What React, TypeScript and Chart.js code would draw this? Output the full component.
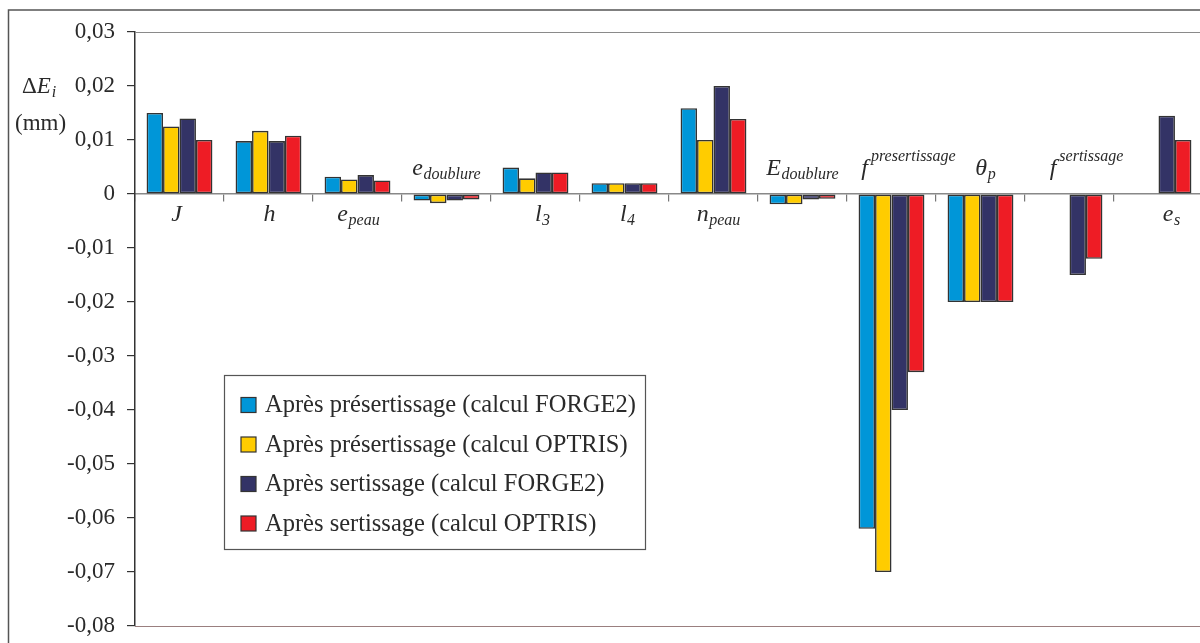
import React, { useEffect, useRef } from "react";
import { Chart, registerables } from "chart.js";

Chart.register(...registerables);

// ---- data ----
const categories = [
  "J", "h", "e_peau", "e_doublure", "l_3", "l_4", "n_peau",
  "E_doublure", "f^presertissage", "θ_p", "f^sertissage", "e_s",
];
const seriesLabels = [
  "Après présertissage (calcul FORGE2)",
  "Après présertissage (calcul OPTRIS)",
  "Après sertissage (calcul FORGE2)",
  "Après sertissage (calcul OPTRIS)",
];
const preForge = [0.015, 0.0098, 0.0032, -0.0012, 0.0049, 0.002, 0.0159, -0.0019, -0.062, -0.02, null, null];
const preOptris = [0.0125, 0.0117, 0.0027, -0.0017, 0.0029, 0.002, 0.010, -0.0019, -0.070, -0.02, null, null];
const sertForge = [0.014, 0.0098, 0.0035, -0.0012, 0.004, 0.002, 0.020, -0.001, -0.040, -0.02, -0.015, 0.0145];
const sertOptris = [0.010, 0.0108, 0.0025, -0.001, 0.004, 0.002, 0.0139, -0.0009, -0.033, -0.02, -0.012, 0.010];
const yMin = -0.08;
const yMax = 0.03;
const yStep = 0.01;
const yTitleMain = "ΔE";
const yTitleSub = "i";
const yTitleUnit = "(mm)";

// ---- styles ----
const colors = ["#0096D8", "#FFCC00", "#333366", "#EE1C25"];
const labelSide = ["below", "below", "below", "above", "below", "below", "below", "above", "above", "above", "above", "below"];
const labelDx = [-3, 1, 1, 0, 7, 3, 5, 0, 17, 5, 17, 13];
const SERIF = "'Liberation Serif', 'Times New Roman', serif";
const W = 1215;
const H = 660;

function fmtTick(v: number) {
  const r = Math.round(v * 100) / 100;
  if (r === 0) return "0";
  return r.toFixed(2).replace(".", ",");
}

const decorPlugin = {
  id: "decor",
  afterDraw(chart: any) {
    const ctx = chart.ctx as CanvasRenderingContext2D;
    const { left, right } = chart.chartArea;
    const ys = chart.scales.y;
    const xs = chart.scales.x;
    const y0 = ys.getPixelForValue(0);
    ctx.save();

    // outer frame
    ctx.strokeStyle = "#555";
    ctx.lineWidth = 1.5;
    ctx.beginPath();
    ctx.moveTo(8.5, H);
    ctx.lineTo(8.5, 10);
    ctx.lineTo(W, 10);
    ctx.stroke();

    // plot top / bottom lines
    ctx.lineWidth = 1.2;
    ctx.strokeStyle = "#8a8a8a";
    const yt = Math.round(ys.getPixelForValue(yMax)) + 0.5;
    ctx.beginPath();
    ctx.moveTo(left, yt);
    ctx.lineTo(right, yt);
    ctx.stroke();
    ctx.strokeStyle = "#9a7f7f";
    const yb = Math.round(ys.getPixelForValue(yMin)) + 0.5;
    ctx.beginPath();
    ctx.moveTo(left, yb);
    ctx.lineTo(right, yb);
    ctx.stroke();

    // category labels
    ctx.fillStyle = "#2a2a2a";
    ctx.textAlign = "left";
    ctx.textBaseline = "alphabetic";
    const mainFont = "italic 24px " + SERIF;
    const smallFont = "italic 16px " + SERIF;
    categories.forEach((cat, i) => {
      const m = cat.match(/^([^_^]+)([_^])?(.*)$/);
      if (!m) return;
      const base = m[1];
      const mode = m[2] || "";
      const rest = m[3] || "";
      ctx.font = mainFont;
      const wb = ctx.measureText(base).width;
      ctx.font = smallFont;
      const gap = mode === "^" ? 3 : 0.5;
      const wr = rest ? ctx.measureText(rest).width + gap : 0;
      const cx = xs.getPixelForValue(i) + labelDx[i];
      const baseline = labelSide[i] === "below" ? y0 + 27 : y0 - 19;
      const sx = cx - (wb + wr) / 2;
      ctx.font = mainFont;
      ctx.fillText(base, sx, baseline);
      if (rest) {
        ctx.font = smallFont;
        ctx.fillText(rest, sx + wb + gap, baseline + (mode === "_" ? 4 : -14));
      }
    });

    // y title
    ctx.fillStyle = "#2a2a2a";
    ctx.font = "23px " + SERIF;
    ctx.fillText(yTitleMain.charAt(0), 22, 93);
    const wd = ctx.measureText(yTitleMain.charAt(0)).width;
    ctx.font = "italic 23px " + SERIF;
    ctx.fillText(yTitleMain.slice(1), 22 + wd, 93);
    const we = ctx.measureText(yTitleMain.slice(1)).width;
    ctx.font = "italic 16px " + SERIF;
    ctx.fillText(yTitleSub, 22 + wd + we + 1, 97);
    ctx.font = "23px " + SERIF;
    ctx.fillText(yTitleUnit, 15, 130);

    // legend
    const lx = 224, ly = 375, lw = 421, lh = 174;
    ctx.fillStyle = "#fff";
    ctx.fillRect(lx, ly, lw, lh);
    ctx.strokeStyle = "#555";
    ctx.lineWidth = 1.2;
    ctx.strokeRect(lx + 0.5, ly + 0.5, lw, lh);
    ctx.font = "24.5px " + SERIF;
    ctx.textBaseline = "middle";
    seriesLabels.forEach((lab, i) => {
      const cy = 405 + i * 39.5;
      ctx.fillStyle = colors[i];
      ctx.fillRect(241, cy - 7.5, 15, 15);
      ctx.strokeStyle = "#333";
      ctx.lineWidth = 1.2;
      ctx.strokeRect(241, cy - 7.5, 15, 15);
      ctx.fillStyle = "#2a2a2a";
      ctx.fillText(lab, 265, cy + 1);
    });
    ctx.restore();
  },
};

export default function App() {
  const ref = useRef<HTMLCanvasElement | null>(null);
  useEffect(() => {
    if (!ref.current) return;
    const series = [preForge, preOptris, sertForge, sertOptris];
    const chart = new Chart(ref.current, {
      type: "bar",
      data: {
        labels: categories,
        datasets: series.map((d, i) => ({
          label: seriesLabels[i],
          data: d as any,
          backgroundColor: colors[i],
          borderColor: "#333",
          borderWidth: 1.6,
          borderSkipped: false,
          categoryPercentage: 0.74,
          barPercentage: 1.0,
        })),
      },
      options: {
        responsive: false,
        animation: false,
        devicePixelRatio: 1,
        layout: { padding: { left: 0, top: 32, right: W - 1203, bottom: H - 626 } },
        plugins: { legend: { display: false }, tooltip: { enabled: false } },
        scales: {
          x: {
            position: { y: 0 } as any,
            grid: {
              drawOnChartArea: false,
              drawTicks: true,
              tickLength: 7,
              offset: true,
              color: "#777",
              lineWidth: 1.2,
            },
            border: { display: true, color: "#888", width: 1.5 },
            ticks: { display: false },
            afterFit: (s: any) => { s.height = 0; },
          },
          y: {
            min: yMin,
            max: yMax,
            ticks: {
              stepSize: yStep,
              padding: 12,
              color: "#2a2a2a",
              font: { family: SERIF, size: 23 },
              callback: (v: any) => fmtTick(Number(v)),
            },
            grid: { drawOnChartArea: false, drawTicks: true, tickLength: 8, color: "#333", lineWidth: 1.2 },
            border: { display: true, color: "#333", width: 1.5 },
            afterFit: (s: any) => { s.width = 135; },
          },
        },
      },
      plugins: [decorPlugin],
    });
    return () => chart.destroy();
  }, []);
  return (
    <div style={{ position: "absolute", left: 0, top: 0, width: 1200, height: 643, overflow: "hidden", background: "#fff" }}>
      <canvas ref={ref} width={W} height={H} style={{ width: W, height: H, display: "block" }} />
    </div>
  );
}
